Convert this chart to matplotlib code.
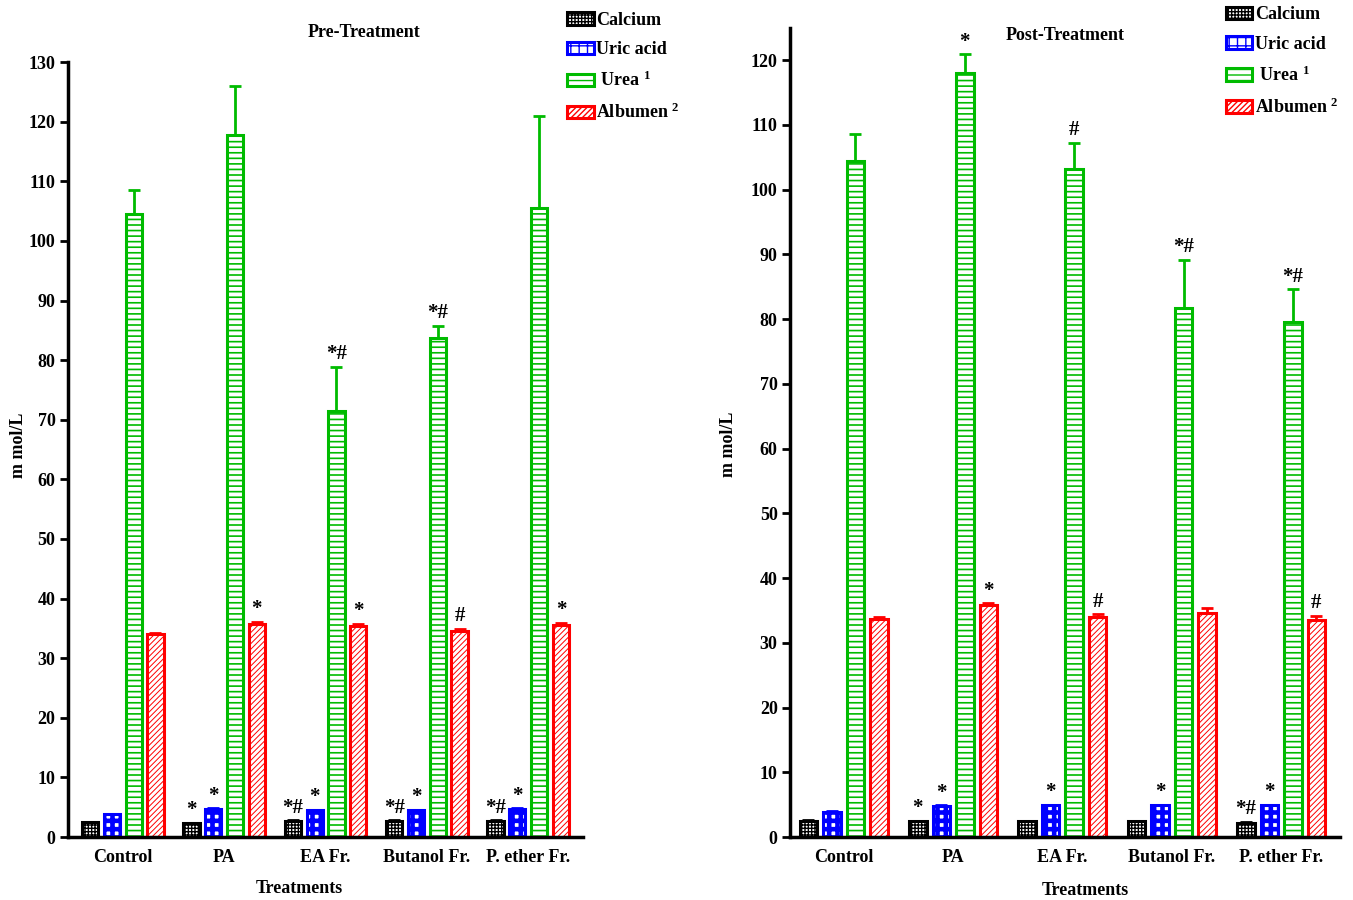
import matplotlib
matplotlib.use('Agg')
import matplotlib.pyplot as plt
import numpy as np

groups = ['Control', 'PA', 'EA Fr.', 'Butanol Fr.', 'P. ether Fr.']
series = ['Calcium', 'Uric acid', ' Urea $^1$', 'Albumen $^2$']

# pre-treatment values (m mol/L) and upper error
pre_calcium = [2.5, 2.3, 2.7, 2.7, 2.7]
pre_calcium_err = [0.1, 0.1, 0.1, 0.1, 0.1]
pre_uric = [3.8, 4.7, 4.5, 4.5, 4.7]
pre_uric_err = [0.1, 0.1, 0.1, 0.1, 0.1]
pre_urea = [104.5, 117.8, 71.5, 83.7, 105.5]
pre_urea_err = [4.0, 8.2, 7.4, 2.0, 15.5]
pre_alb = [34.0, 35.8, 35.4, 34.6, 35.6]
pre_alb_err = [0.3, 0.3, 0.3, 0.3, 0.3]
pre_marks = [['', '*', '*#', '*#', '*#'],
             ['', '*', '*', '*', '*'],
             ['', '', '*#', '*#', ''],
             ['', '*', '*', '#', '*']]

# post-treatment
post_calcium = [2.5, 2.4, 2.4, 2.4, 2.2]
post_calcium_err = [0.1, 0.1, 0.1, 0.1, 0.1]
post_uric = [3.9, 4.8, 4.9, 4.9, 4.9]
post_uric_err = [0.1, 0.1, 0.1, 0.1, 0.1]
post_urea = [104.4, 118.0, 103.2, 81.7, 79.5]
post_urea_err = [4.2, 2.9, 4.0, 7.4, 5.1]
post_alb = [33.7, 35.8, 34.0, 34.6, 33.5]
post_alb_err = [0.3, 0.3, 0.4, 0.8, 0.6]
post_marks = [['', '*', '', '', '*#'],
              ['', '*', '*', '*', '*'],
              ['', '*', '#', '*#', '*#'],
              ['', '*', '#', '', '#']]

plt.rcParams['font.family'] = 'Liberation Serif'
plt.rcParams['font.weight'] = 'bold'
plt.rcParams['mathtext.fontset'] = 'custom'
plt.rcParams['mathtext.rm'] = 'Liberation Serif:bold'
plt.rcParams['mathtext.bf'] = 'Liberation Serif:bold'
plt.rcParams['mathtext.default'] = 'bf'

styles = [dict(edgecolor='black', hatch='+++++', hlw=1.0),
          dict(edgecolor='#0000ff', hatch='++', hlw=3.3),
          dict(edgecolor='#00bb00', hatch='---', hlw=1.2),
          dict(edgecolor='#ff0000', hatch='//////', hlw=0.7)]

fig = plt.figure(figsize=(13.53, 9), dpi=100)
ax1 = fig.add_axes([0.0503, 0.07, 0.3806, 0.861])
ax2 = fig.add_axes([0.584, 0.07, 0.4065, 0.899])


def panel(ax, vals, errs, marks, ymax, xlim, title, tx, ty):
    x = np.arange(len(groups))
    step = 0.215
    width = 0.16
    handles = []
    for i in range(4):
        st = styles[i]
        pos = x + (i - 1.5) * step
        with plt.rc_context({'hatch.linewidth': st['hlw']}):
            bars = ax.bar(pos, vals[i], width, facecolor='white',
                          edgecolor=st['edgecolor'], hatch=st['hatch'],
                          linewidth=2.2, label=series[i], zorder=2)
        for b in bars:
            try:
                b.set_hatch_linewidth(st['hlw'])
            except AttributeError:
                pass
        handles.append(bars)
        ax.errorbar(pos, vals[i], yerr=[np.zeros(len(groups)), errs[i]],
                    fmt='none', ecolor=st['edgecolor'], elinewidth=2,
                    capsize=4, capthick=2, zorder=3)
        for p, v, e, m in zip(pos, vals[i], errs[i], marks[i]):
            if m:
                ax.annotate(m, (p, v + e), xytext=(0, 2), textcoords='offset points',
                            ha='center', va='bottom', fontsize=15, fontweight='bold')
    ax.set_ylim(0, ymax)
    ax.set_xlim(*xlim)
    ax.set_yticks(np.arange(0, (ymax // 10) * 10 + 1, 10))
    ax.set_xticks(x)
    ax.set_xticklabels(groups, fontsize=13, fontweight='bold')
    ax.tick_params(axis='x', length=0, pad=9)
    ax.tick_params(axis='y', direction='out', length=6, width=2, labelsize=13, pad=3)
    for s in ['top', 'right']:
        ax.spines[s].set_visible(False)
    for s in ['left', 'bottom']:
        ax.spines[s].set_linewidth(2.5)
    ax.set_xlabel('Treatments', fontsize=13, fontweight='bold')
    ax.set_ylabel('m mol/L', fontsize=13, fontweight='bold')
    ax.text(tx, ty, title, transform=ax.transAxes, ha='center', va='bottom',
            fontsize=13, fontweight='bold')
    return handles


h1 = panel(ax1, [pre_calcium, pre_uric, pre_urea, pre_alb],
           [pre_calcium_err, pre_uric_err, pre_urea_err, pre_alb_err],
           pre_marks, 130, (-0.54, 4.54), 'Pre-Treatment', 0.574, 1.027)
ax1.xaxis.set_label_coords(0.45, -0.055)
ax1.yaxis.set_label_coords(-0.080, 0.506)
h2 = panel(ax2, [post_calcium, post_uric, post_urea, post_alb],
           [post_calcium_err, post_uric_err, post_urea_err, post_alb_err],
           post_marks, 125, (-0.49, 4.54), 'Post-Treatment', 0.5, 0.98)
ax2.xaxis.set_label_coords(0.536, -0.055)
ax2.yaxis.set_label_coords(-0.097, 0.485)

for hs, anchor in [(h1, (0.414, 0.995)), (h2, (0.901, 1.001))]:
    fig.legend(hs, series, loc='upper left', bbox_to_anchor=anchor, frameon=False,
               prop={'size': 13, 'weight': 'bold'}, handlelength=1.45,
               handleheight=0.7, handletextpad=0.15, labelspacing=0.7,
               borderaxespad=0)

fig.savefig('out.png', dpi=100)
